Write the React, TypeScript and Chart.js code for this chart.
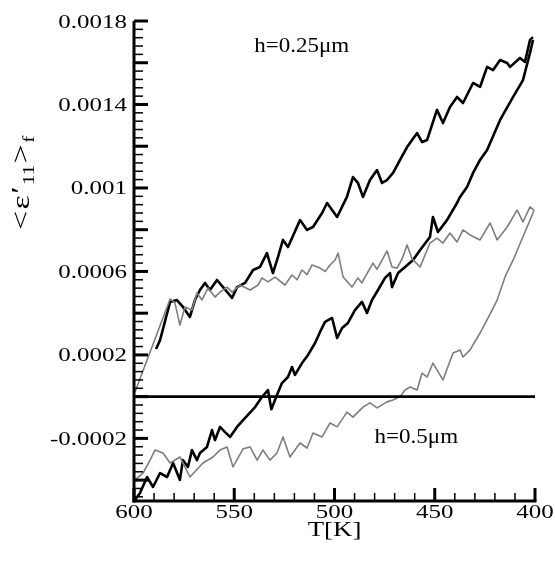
import { useEffect, useRef } from 'react';
import { Chart, registerables } from 'chart.js';

Chart.register(...registerables);

// x-axis: temperature T[K] (reversed, 600 -> 400); y-axis: strain
const xTickLabels = [600, 550, 500, 450, 400];
const yTickLabels = [-0.0002, 0.0002, 0.0006, 0.001, 0.0014, 0.0018];

const zeroLine = [
  [600, 0],
  [400, 0],
];

// h = 0.25 um (black), cooling branch
const blackCooling = [
  [589.0, 0.000228], [587.0, 0.000271], [582.0, 0.000454], [578.6, 0.000463],
  [575.6, 0.00043], [572.1, 0.000382], [569.6, 0.000463], [567.1, 0.000511],
  [564.6, 0.000545], [562.1, 0.000511], [558.6, 0.000559], [555.6, 0.000525],
  [551.1, 0.000473], [548.6, 0.000525], [544.6, 0.000545], [540.6, 0.000607],
  [537.2, 0.000621], [533.7, 0.000688], [530.7, 0.000592], [528.2, 0.000669],
  [525.7, 0.000751], [523.2, 0.000717], [520.5, 0.000775], [517.2, 0.000846],
  [513.7, 0.000799], [510.7, 0.000813], [506.2, 0.00088], [503.7, 0.000928],
  [498.7, 0.000861], [493.8, 0.000957], [490.8, 0.001052], [488.3, 0.001024],
  [485.8, 0.000957], [482.3, 0.001038], [478.8, 0.001086], [476.3, 0.001024],
  [473.8, 0.001038], [470.8, 0.001072], [467.3, 0.001134], [463.8, 0.001196],
  [458.8, 0.001263], [456.3, 0.00122], [453.8, 0.00123], [448.9, 0.001374],
  [445.9, 0.001311], [442.4, 0.001388], [438.9, 0.001436], [435.9, 0.001407],
  [430.9, 0.001503], [427.4, 0.001484], [423.9, 0.00158], [420.9, 0.001565],
  [417.4, 0.001613], [413.9, 0.001599], [412.4, 0.00158], [407.5, 0.001623],
  [405.0, 0.001604], [402.5, 0.001709], [401.0, 0.001723],
];

// h = 0.25 um (black), heating branch
const blackHeating = [
  [401.0, 0.001709], [402.5, 0.001647], [406.0, 0.001517], [410.9, 0.001436],
  [417.4, 0.001326], [423.9, 0.001182], [427.4, 0.001134], [430.9, 0.001072],
  [433.9, 0.001005], [437.4, 0.000957], [438.9, 0.000928], [443.9, 0.000846],
  [448.4, 0.000789], [450.9, 0.000861], [452.4, 0.000765], [457.3, 0.000703],
  [460.8, 0.000655], [464.8, 0.000621], [468.3, 0.000592], [471.3, 0.000525],
  [472.3, 0.000592], [474.8, 0.000569], [478.3, 0.000511], [481.3, 0.000463],
  [483.8, 0.000401], [486.3, 0.000454], [489.8, 0.000415], [493.3, 0.000353],
  [496.2, 0.000329], [498.7, 0.000281], [501.2, 0.000377], [504.7, 0.000358],
  [507.2, 0.00031], [509.7, 0.000257], [513.2, 0.0002], [516.2, 0.000161],
  [519.7, 0.000104], [521.2, 0.000142], [523.2, 0.000094], [526.2, 0.000065],
  [528.7, 0.000008], [531.5, -0.00006], [533.2, 0.000032], [536.2, -0.000002],
  [539.6, -0.00005], [545.6, -0.000112], [548.6, -0.000145], [552.1, -0.000193],
  [554.6, -0.00017], [557.1, -0.000145], [559.6, -0.000208], [561.1, -0.00016],
  [563.6, -0.000241], [567.1, -0.00027], [568.6, -0.000304], [571.1, -0.000256],
  [573.1, -0.000337], [575.6, -0.000304], [577.1, -0.000399], [580.5, -0.000318],
  [583.5, -0.000385], [587.0, -0.000366], [590.5, -0.000433], [593.5, -0.000385],
  [597.0, -0.000462], [599.5, -0.000495],
];

// h = 0.5 um (gray), cooling branch
const grayCooling = [
  [599.5, 0.000022], [582.0, 0.000468], [579.6, 0.000449], [577.1, 0.000343],
  [574.6, 0.00043], [571.1, 0.000415], [568.6, 0.000497], [566.1, 0.000463],
  [563.1, 0.000521], [559.6, 0.000477], [557.1, 0.000501], [553.6, 0.000525],
  [551.1, 0.000501], [547.1, 0.000535], [542.1, 0.000511], [538.1, 0.000535],
  [536.2, 0.000569], [533.2, 0.00055], [529.7, 0.000573], [524.7, 0.000535],
  [521.2, 0.000583], [518.7, 0.00056], [516.2, 0.000607], [513.7, 0.000585],
  [511.2, 0.000631], [507.2, 0.000616], [504.7, 0.0006], [502.2, 0.000631],
  [499.7, 0.000655], [498.2, 0.000688], [495.7, 0.000573], [491.3, 0.000525],
  [488.3, 0.000569], [486.3, 0.000545], [484.8, 0.000573], [480.8, 0.00064],
  [478.8, 0.00061], [473.8, 0.000698], [471.3, 0.000621], [468.8, 0.000616],
  [466.3, 0.00066], [463.8, 0.000727], [461.3, 0.00066], [457.3, 0.000621],
  [452.4, 0.000736], [448.9, 0.00076], [445.9, 0.000736], [442.4, 0.000784],
  [438.9, 0.000741], [435.9, 0.000799], [432.4, 0.000775], [427.4, 0.000751],
  [422.4, 0.000832], [418.9, 0.000751], [413.9, 0.000813], [408.9, 0.000894],
  [406.0, 0.000837], [402.5, 0.000909], [400.5, 0.000894],
];

// h = 0.5 um (gray), heating branch
const grayHeating = [
  [400.5, 0.000894], [401.0, 0.00088], [410.9, 0.000655], [414.9, 0.000575],
  [418.9, 0.000463], [423.0, 0.000385], [427.4, 0.000305], [432.4, 0.000224],
  [435.9, 0.00019], [437.4, 0.000224], [440.9, 0.000209], [445.9, 0.00008],
  [450.9, 0.000161], [453.8, 0.000094], [456.3, 0.000113], [458.8, 0.000032],
  [462.3, 0.000046], [464.8, 0.000032], [467.3, 0.0], [470.8, -0.000016],
  [473.8, -0.000025], [478.8, -0.000054], [482.3, -0.00003], [485.8, -0.00005],
  [490.8, -0.000098], [493.8, -0.000074], [498.7, -0.000145], [502.2, -0.000126],
  [506.2, -0.000193], [510.7, -0.000174], [513.7, -0.000246], [517.2, -0.000222],
  [522.2, -0.000289], [525.7, -0.000193], [528.7, -0.00027], [532.2, -0.000304],
  [535.7, -0.000256], [538.6, -0.000304], [542.1, -0.000241], [545.6, -0.00025],
  [550.6, -0.000337], [553.6, -0.000241], [557.1, -0.000256], [560.6, -0.000289],
  [565.6, -0.000318], [572.1, -0.000385], [577.1, -0.000289], [582.0, -0.000318],
  [585.5, -0.00027], [589.5, -0.000256], [592.0, -0.000304], [595.5, -0.000366],
  [599.5, -0.000399],
];

const annotations = [
  { text: 'h=0.25\u03bcm', t: 540, s: 0.00165 },
  { text: 'h=0.5\u03bcm', t: 480, s: -0.000222 },
];

const GRAY = '#7d7d7d';
const SERIF = '"Liberation Serif", "Times New Roman", serif';

function toPoints(arr: number[][]) {
  return arr.map(([t, s]) => ({ x: t, y: s }));
}

function drawText(
  ctx: CanvasRenderingContext2D,
  text: string,
  x: number,
  y: number,
  font: string,
  align: 'left' | 'center' | 'right',
  sx: number
) {
  ctx.save();
  ctx.font = font;
  ctx.textAlign = 'left';
  ctx.textBaseline = 'alphabetic';
  const w = ctx.measureText(text).width * sx;
  let x0 = x;
  if (align === 'center') x0 = x - w / 2;
  else if (align === 'right') x0 = x - w;
  ctx.translate(x0, y);
  ctx.scale(sx, 1);
  ctx.fillText(text, 0, 0);
  ctx.restore();
}

const decorPlugin = {
  id: 'decor',
  afterDraw(chart: any) {
    const { ctx, chartArea: a, scales } = chart;
    const xs = scales.x;
    const ys = scales.y;
    ctx.save();
    ctx.fillStyle = '#000';

    // axes
    ctx.fillRect(a.left - 1.5, a.top, 3, a.bottom - a.top + 1.5);
    ctx.fillRect(a.left - 1.5, a.bottom - 1.5, a.right - a.left + 3, 3);

    // y ticks (inward)
    for (let k = -12; k <= 45; k++) {
      const major = k % 5 === 0;
      const py = ys.getPixelForValue(k * 0.00004);
      const w = major ? 3 : 1.5;
      const len = major ? 14 : 9;
      ctx.fillRect(a.left, py - w / 2, len, w);
    }
    // x ticks (inward)
    for (let t = 400; t <= 600; t += 10) {
      const major = t % 50 === 0;
      const px = xs.getPixelForValue(t);
      const w = major ? 3 : 1.5;
      const len = major ? 13 : 8;
      ctx.fillRect(px - w / 2, a.bottom - len, w, len);
    }

    // tick labels
    const tickFont = `19.5px ${SERIF}`;
    yTickLabels.forEach((v) => {
      const py = ys.getPixelForValue(v);
      drawText(ctx, String(v), a.left - 7, py + 6.5, tickFont, 'right', 1.28);
    });
    xTickLabels.forEach((v) => {
      const px = xs.getPixelForValue(v);
      drawText(ctx, String(v), px, a.bottom + 17, tickFont, 'center', 1.28);
    });

    // x title
    drawText(ctx, 'T[K]', (a.left + a.right) / 2, 536, `21px ${SERIF}`, 'center', 1.28);

    // annotations
    annotations.forEach((an) => {
      drawText(ctx, an.text, xs.getPixelForValue(an.t), ys.getPixelForValue(an.s), `20px ${SERIF}`, 'left', 1.15);
    });

    // y title  <ε'11>f  (rotated)
    const pieces = [
      { t: '<', f: 26, dy: 0 },
      { t: '\u03b5', f: 26, dy: 0 },
      { t: '\u2032', f: 26, dy: 0 },
      { t: '11', f: 16, dy: 5 },
      { t: '>', f: 26, dy: 0 },
      { t: 'f', f: 16, dy: 5 },
    ];
    const sx = 1.3;
    const gap = 1.5;
    let total = 0;
    const widths = pieces.map((p) => {
      ctx.font = `${p.f}px ${SERIF}`;
      const w = ctx.measureText(p.t).width * sx;
      total += w;
      return w;
    });
    total += gap * (pieces.length - 1);
    ctx.save();
    ctx.translate(29, 183);
    ctx.rotate(-Math.PI / 2);
    let cx = -total / 2;
    pieces.forEach((p, i) => {
      drawText(ctx, p.t, cx, p.dy, `${p.f}px ${SERIF}`, 'left', sx);
      cx += widths[i] + gap;
    });
    ctx.restore();

    ctx.restore();
  },
};

export default function App() {
  const canvasRef = useRef<HTMLCanvasElement | null>(null);

  useEffect(() => {
    const canvas = canvasRef.current;
    if (!canvas) return;
    const line = (data: number[][], color: string, width: number, label: string) => ({
      label,
      data: toPoints(data),
      borderColor: color,
      backgroundColor: color,
      borderWidth: width,
      pointRadius: 0,
      showLine: true,
      fill: false,
      tension: 0,
      borderJoinStyle: 'round' as const,
    });
    const chart = new Chart(canvas, {
      type: 'scatter',
      data: {
        datasets: [
          line(zeroLine, '#000', 2.8, 'zero'),
          line(grayCooling, GRAY, 1.6, 'h=0.5um cooling'),
          line(grayHeating, GRAY, 1.6, 'h=0.5um heating'),
          line(blackCooling, '#000', 2.6, 'h=0.25um cooling'),
          line(blackHeating, '#000', 2.6, 'h=0.25um heating'),
        ],
      },
      options: {
        responsive: false,
        animation: false,
        devicePixelRatio: 1,
        layout: { padding: { left: 134, right: 20, top: 21, bottom: 61 } },
        plugins: { legend: { display: false }, tooltip: { enabled: false } },
        scales: {
          x: { type: 'linear', min: 400, max: 600, reverse: true, display: false },
          y: { type: 'linear', min: -0.0005, max: 0.0018, display: false },
        },
      },
      plugins: [decorPlugin],
    });
    return () => chart.destroy();
  }, []);

  return (
    <div style={{ position: 'fixed', left: 0, top: 0, width: 555, height: 562, background: '#fff' }}>
      <canvas ref={canvasRef} width={555} height={562} />
    </div>
  );
}
